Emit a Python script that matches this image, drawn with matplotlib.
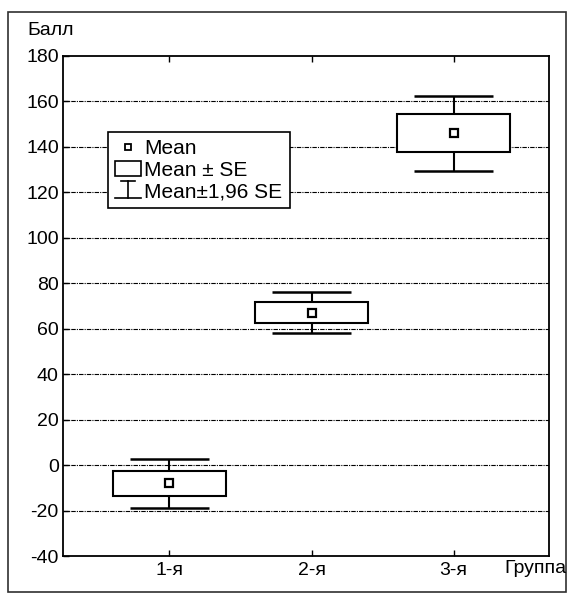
import matplotlib
matplotlib.use('Agg')
import matplotlib.pyplot as plt
import numpy as np
from matplotlib.patches import Rectangle
from matplotlib.lines import Line2D
from matplotlib.legend_handler import HandlerBase

plt.rcParams['font.family'] = ['Liberation Sans', 'DejaVu Sans']
plt.rcParams['axes.unicode_minus'] = False

# данные
groups = ['1-я', '2-я', '3-я']
means = [-8.0, 67.0, 146.0]
se = [5.5, 4.6, 8.4]
yticks = [-40, -20, 0, 20, 40, 60, 80, 100, 120, 140, 160, 180]

x = np.arange(1, len(groups) + 1)
means = np.array(means)
se = np.array(se)
box_hw = 0.40
cap_hw = 0.28
fs = 14


class WhiskerHandler(HandlerBase):
    # значок "Mean±1,96 SE": короткая верхняя черта, стойка, длинная нижняя
    def create_artists(self, legend, orig_handle, xd, yd, width, height, fontsize, trans):
        cx = xd + width / 2
        y0 = yd - 1
        y1 = yd + height + 1
        a = Line2D([xd + width * 0.22, xd + width * 0.78], [y1, y1], color='k', lw=1.2, transform=trans)
        b = Line2D([cx, cx], [y0, y1], color='k', lw=1.2, transform=trans)
        c = Line2D([xd, xd + width], [y0, y0], color='k', lw=1.2, transform=trans)
        return [a, b, c]


fig = plt.figure(figsize=(5.67, 5.93), dpi=100)
ax = fig.add_axes([0.111, 0.062, 0.857, 0.844])

# сетка
for yv in yticks[1:-1]:
    ax.axhline(yv, color='k', lw=0.8, ls=(0, (4, 1, 1, 1)), zorder=1)

# Mean±1,96 SE
lo = means - 1.96 * se
hi = means + 1.96 * se
ax.vlines(x, lo, hi, color='k', lw=1.5, zorder=2)
ax.hlines(lo, x - cap_hw, x + cap_hw, color='k', lw=1.8, zorder=2)
ax.hlines(hi, x - cap_hw, x + cap_hw, color='k', lw=1.8, zorder=2)

# Mean±SE
for xi, m, s in zip(x, means, se):
    ax.add_patch(Rectangle((xi - box_hw, m - s), 2 * box_hw, 2 * s,
                           facecolor='white', edgecolor='k', lw=1.5, zorder=3))

# Mean
ax.plot(x, means, 's', ms=6, mfc='white', mec='k', mew=1.6, zorder=4)

ax.set_xlim(0.25, 3.67)
ax.set_ylim(-40, 180)
ax.set_yticks(yticks)
ax.set_xticks(x)
ax.set_xticklabels(groups)
ax.tick_params(axis='both', direction='in', labelsize=fs, length=4, width=1)
ax.tick_params(axis='x', top=True, pad=4)
ax.tick_params(axis='y', pad=3)
for sp in ax.spines.values():
    sp.set_linewidth(1.3)

h_mean = Line2D([], [], ls='none', marker='s', ms=4.5, mfc='white', mec='k', mew=1.3)
h_se = Rectangle((0, 0), 1, 1, facecolor='white', edgecolor='k', lw=1.2)
h_ci = object()
leg = ax.legend([h_mean, h_se, h_ci], ['Mean', 'Mean ± SE', 'Mean±1,96 SE'],
                handler_map={h_ci: WhiskerHandler()},
                loc='upper left', bbox_to_anchor=(0.092, 0.848), borderaxespad=0,
                fontsize=15, frameon=True, fancybox=False, framealpha=1,
                handlelength=1.25, handleheight=0.72, handletextpad=0.15,
                borderpad=0.35, labelspacing=0.12)
leg.get_frame().set_edgecolor('k')
leg.get_frame().set_linewidth(1.2)
leg.set_zorder(5)

fig.text(0.048, 0.948, 'Балл', fontsize=fs, va='center', ha='left')
fig.text(0.944, 0.042, 'Группа', fontsize=fs, va='center', ha='center')

# рамка вокруг рисунка
fig.patches.append(Rectangle((0.014, 0.002), 0.984, 0.977, transform=fig.transFigure,
                             fill=False, edgecolor='#303030', lw=1.2))

plt.savefig('out.png', dpi=100)
plt.close()
